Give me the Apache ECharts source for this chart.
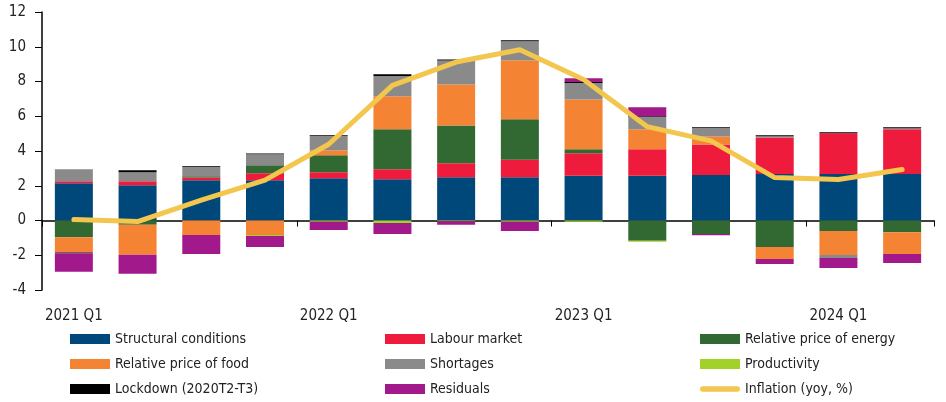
<!DOCTYPE html>
<html><head><meta charset="utf-8">
<script src="https://cdn.jsdelivr.net/npm/echarts@6/dist/echarts.min.js"></script>
<style>html,body{margin:0;padding:0;background:#fff}#c{width:946px;height:402px}</style>
</head><body><div id="c"></div>
<script>
const categories = ['2021 Q1','2021 Q2','2021 Q3','2021 Q4','2022 Q1','2022 Q2','2022 Q3','2022 Q4','2023 Q1','2023 Q2','2023 Q3','2023 Q4','2024 Q1','2024 Q2'];
const structural = [2.15, 2.03, 2.32, 2.32, 2.43, 2.38, 2.49, 2.49, 2.57, 2.57, 2.62, 2.68, 2.68, 2.68];
const labour     = [0.11, 0.23, 0.15, 0.40, 0.34, 0.57, 0.80, 1.00, 1.30, 1.53, 1.76, 2.09, 2.34, 2.57];
const energy     = [-0.96, -0.25, 0.08, 0.46, 0.98, 2.30, 2.18, 2.34, 0.23, -1.17, -0.77, -1.53, -0.61, -0.67];
const food       = [-0.88, -1.72, -0.84, -0.84, 0.29, 1.90, 2.36, 3.39, 2.87, 1.15, 0.46, -0.69, -1.38, -1.26];
const shortages  = [0.69, 0.52, 0.54, 0.63, 0.82, 1.17, 1.38, 1.09, 0.94, 0.71, 0.48, 0.08, -0.17, 0.06];
const productivity = [0, 0, 0, -0.05, -0.07, -0.15, -0.04, -0.07, -0.07, -0.06, 0, 0, 0, 0];
const lockdown   = [-0.04, 0.11, 0.04, 0.05, 0.04, 0.10, 0.06, 0.06, 0.06, 0.04, 0.04, 0.06, 0.06, 0.06];
const residuals  = [-1.07, -1.09, -1.09, -0.63, -0.48, -0.63, -0.21, -0.54, 0.21, 0.52, -0.08, -0.29, -0.57, -0.52];
const inflation  = [0.06, -0.06, 1.17, 2.32, 4.39, 7.78, 9.12, 9.83, 8.12, 5.40, 4.58, 2.47, 2.36, 2.93];
const yTicks = { min: -4, max: 12, interval: 2 };

const FONT = "'DejaVu Sans Condensed','Liberation Sans Narrow','Liberation Sans',sans-serif";
const bars = [
  ['Structural conditions', structural, '#00477A'],
  ['Labour market', labour, '#EE1B3C'],
  ['Relative price of energy', energy, '#326832'],
  ['Relative price of food', food, '#F48434'],
  ['Shortages', shortages, '#8A8A8A'],
  ['Productivity', productivity, '#A2D12A'],
  ['Lockdown (2020T2-T3)', lockdown, '#000000'],
  ['Residuals', residuals, '#A2198C']
];
const series = bars.map(([name, data, color]) => ({
  name, type: 'bar', stack: 'all', data, barWidth: 38,
  itemStyle: { color }, xAxisIndex: 0, emphasis: { disabled: true }
}));
series.push({
  name: 'Inflation (yoy, %)', type: 'line', data: inflation, xAxisIndex: 0,
  showSymbol: false, symbol: 'none', z: 10,
  lineStyle: { color: '#F3C64E', width: 5, cap: 'round', join: 'round' },
  itemStyle: { color: '#F3C64E' }
});
const capsule = 'path://M0,0L0.01,0L0.01,0.01Z M0,10L0.01,10L0.01,9.99Z M3,2L41,2A3,3 0 0 1 41,8L3,8A3,3 0 0 1 3,2Z';
const legendCommon = {
  orient: 'vertical', top: 331, height: 70, padding: 0, itemWidth: 40, itemHeight: 10, itemGap: 9, icon: 'rect',
  textStyle: { fontFamily: FONT, fontSize: 14, lineHeight: 16, color: '#222' }
};
const chart = echarts.init(document.getElementById('c'));
chart.setOption({
  animation: false,
  grid: { left: 42, right: 12, top: 12, bottom: 112 },
  legend: [
    Object.assign({ left: 70, data: ['Structural conditions', 'Relative price of food', 'Lockdown (2020T2-T3)'] }, legendCommon),
    Object.assign({ left: 385, data: ['Labour market', 'Shortages', 'Residuals'] }, legendCommon),
    Object.assign({ left: 700, data: ['Relative price of energy', 'Productivity', { name: 'Inflation (yoy, %)', icon: capsule }] }, legendCommon)
  ],
  xAxis: [
    { type: 'category', data: categories, position: 'bottom',
      axisLine: { show: false, onZero: false }, axisTick: { show: false },
      axisLabel: { interval: 3, margin: 19, fontFamily: FONT, fontSize: 15, color: '#222' } },
    { type: 'category', data: categories, position: 'bottom',
      axisLine: { show: true, onZero: true, lineStyle: { color: '#000', width: 1.5 } },
      axisTick: { show: true, interval: 3, length: 6, lineStyle: { color: '#000' } },
      axisLabel: { show: false } }
  ],
  yAxis: {
    type: 'value', min: yTicks.min, max: yTicks.max, interval: yTicks.interval,
    axisLine: { show: true, lineStyle: { color: '#000', width: 1.5 } },
    axisTick: { show: true, length: 7, lineStyle: { color: '#000' } },
    splitLine: { show: false },
    axisLabel: { margin: 16, fontFamily: FONT, fontSize: 15, color: '#222' }
  },
  series
});
</script></body></html>
